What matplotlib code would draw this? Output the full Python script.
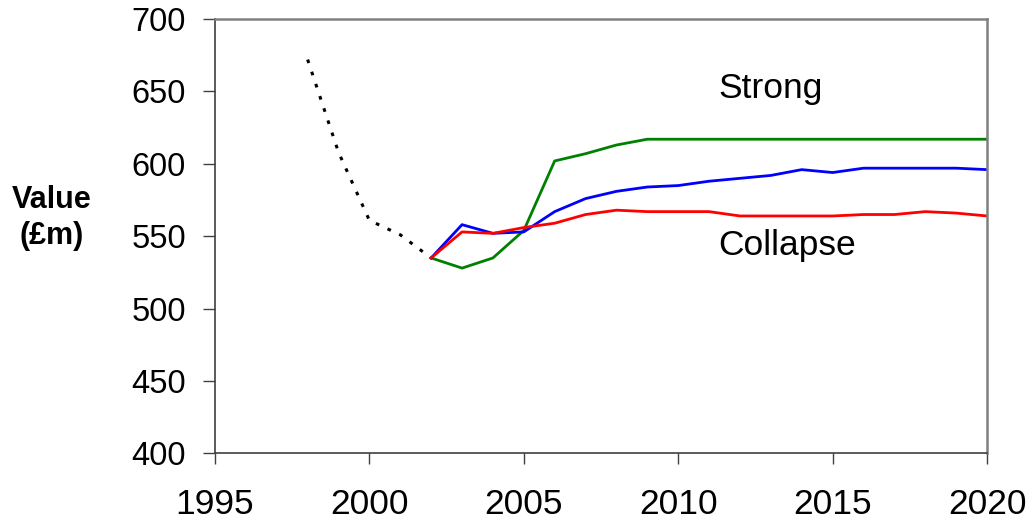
import matplotlib
matplotlib.use("Agg")
import matplotlib.pyplot as plt

plt.rcParams['font.family'] = ['Liberation Sans', 'DejaVu Sans']

# historic values (dotted)
hist_years = [1998, 1999, 2000, 2001, 2002]
hist_vals = [672, 608, 561, 551, 535]

# projections
proj_years = list(range(2002, 2021))
strong = [535, 528, 535, 554, 602, 607, 613, 617, 617, 617, 617, 617,
          617, 617, 617, 617, 617, 617, 617]
central = [535, 558, 552, 553, 567, 576, 581, 584, 585, 588, 590, 592,
           596, 594, 597, 597, 597, 597, 596]
collapse = [535, 553, 552, 556, 559, 565, 568, 567, 567, 567, 564, 564,
            564, 564, 565, 565, 567, 566, 564]

fig = plt.figure(figsize=(10.33, 5.21), dpi=100)
ax = fig.add_axes([0.2081, 0.1296, 0.7474, 0.8339])

ax.plot(hist_years, hist_vals, color='black', lw=2.2, ls=(0, (1.2, 3.0)))
ax.plot(proj_years, strong, color='#008000', lw=2)
ax.plot(proj_years, central, color='#0000ff', lw=2)
ax.plot(proj_years, collapse, color='#ff0000', lw=2)

ax.set_xlim(1995, 2020)
ax.set_ylim(400, 700)
ax.set_xticks(range(1995, 2021, 5))
ax.set_yticks(range(400, 701, 50))

for s in ['left', 'bottom']:
    ax.spines[s].set_color('#404040')
    ax.spines[s].set_linewidth(1.2)
for s in ['top', 'right']:
    ax.spines[s].set_color('#808080')
    ax.spines[s].set_linewidth(1.8)

ax.tick_params(axis='y', direction='out', length=9, width=1, color='#404040',
               labelsize=23.5, pad=12)
ax.tick_params(axis='x', direction='out', length=8, width=1, color='#404040',
               labelsize=25.5, pad=17)

ax.text(2011.3, 652, 'Strong', fontsize=25.5, va='center', ha='left')
ax.text(2011.3, 543.5, 'Collapse', fontsize=25.5, va='center', ha='left')

fig.text(52 / 1033, 1 - 218 / 521, 'Value\n(£m)', fontsize=22, fontweight='bold',
         ha='center', va='center', linespacing=1.3)

fig.savefig('out.png', dpi=100)
